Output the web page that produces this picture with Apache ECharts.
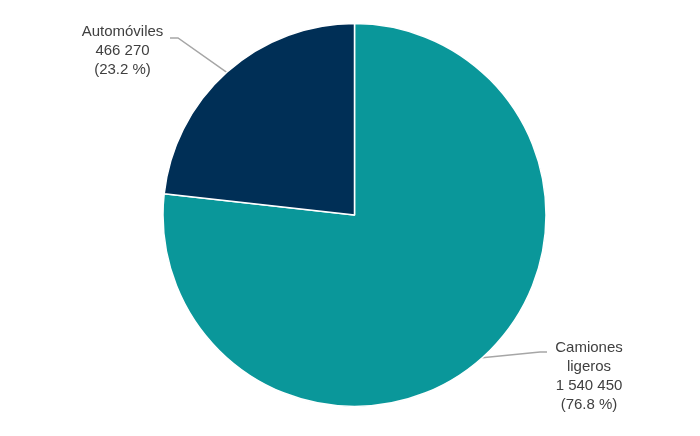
<!DOCTYPE html>
<html>
<head>
<meta charset="utf-8">
<script src="https://cdn.jsdelivr.net/npm/echarts@6/dist/echarts.min.js"></script>
<style>
  html, body { margin: 0; padding: 0; background: #fff; }
  #main { width: 700px; height: 436px; }
</style>
</head>
<body>
<div id="main"></div>
<script>
// datos del gráfico
var categorias = ["Camiones\nligeros", "Automóviles"];
var valores = [1540450, 466270];
var colores = ["#0a979a", "#002f56"];

function fmtNum(n) {
  return String(n).replace(/\B(?=(\d{3})+(?!\d))/g, " ");
}

var chart = echarts.init(document.getElementById("main"));

var datos = categorias.map(function (c, i) {
  return { name: c, value: valores[i], itemStyle: { color: colores[i] } };
});

var options = {
  animation: false,
  series: [
    {
      type: "pie",
      center: [354.5, 215],
      radius: 191.5,
      startAngle: 90,
      clockwise: true,
      data: datos,
      itemStyle: { borderColor: "#fff", borderWidth: 1.5 },
      label: {
        show: true,
        position: "outside",
        color: "#404040",
        fontFamily: "Liberation Sans, Arial, sans-serif",
        fontSize: 15,
        lineHeight: 19,
        align: "center",
        formatter: function (p) {
          return p.name + "\n" + fmtNum(p.value) + "\n(" + p.percent.toFixed(1) + " %)";
        },
      },
      labelLine: {
        show: true,
        lineStyle: { color: "#a6a6a6", width: 1.5 },
      },
      // posición de etiquetas como en el original
      labelLayout: function (p) {
        var pts = p.labelLinePoints;
        if (p.dataIndex === 1) {
          return {
            x: 122.5, y: 51, align: "center", verticalAlign: "middle",
            labelLinePoints: [pts[0], [178, 38], [170, 38]],
          };
        }
        return {
          x: 589, y: 376, align: "center", verticalAlign: "middle",
          labelLinePoints: [pts[0], [540, 352], [547, 352]],
        };
      },
    },
  ],
};

chart.setOption(options);
</script>
</body>
</html>
